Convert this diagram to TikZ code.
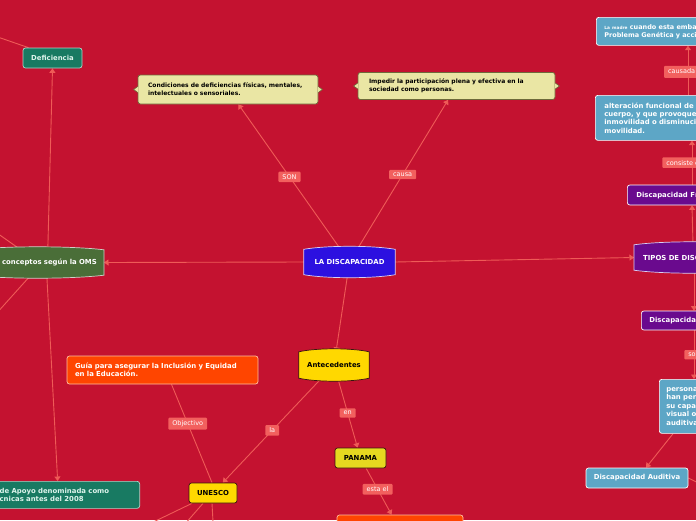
\documentclass[tikz,border=0pt]{standalone}
\usepackage{fontspec}
\setmainfont{DejaVu Sans}
\usetikzlibrary{calc,arrows.meta}
\pgfdeclarelayer{bg}
\pgfdeclarelayer{edges}
\pgfdeclarelayer{shapes}
\pgfsetlayers{bg,edges,shapes,main}
\definecolor{bgred}{HTML}{C41230}
\definecolor{linec}{HTML}{EF5B57}
\definecolor{lblc}{HTML}{F2605E}
\definecolor{disc}{HTML}{2C10E0}
\definecolor{disb}{HTML}{D8D0F4}
\definecolor{omsc}{HTML}{4A6E38}
\definecolor{omsb}{HTML}{D0D0C8}
\definecolor{defc}{HTML}{187A62}
\definecolor{defb}{HTML}{A8D8C8}
\definecolor{deft}{HTML}{DDF4EC}
\definecolor{callf}{HTML}{EAE6A4}
\definecolor{callb}{HTML}{6E6A3A}
\definecolor{purp}{HTML}{6A0A8E}
\definecolor{bluec}{HTML}{5DA6C6}
\definecolor{yel}{HTML}{FFD800}
\definecolor{yelb}{HTML}{3A1410}
\definecolor{pany}{HTML}{E6D820}
\definecolor{orng}{HTML}{FF4500}
\definecolor{orngb}{HTML}{FFC0A0}
\newcommand\bulgebg[4]{%
 \path[fill=#2,draw=#3,line width=0.7pt]
 (#1.north west) .. controls ($(#1.north west)!0.25!(#1.north east)+(0,#4)$) and ($(#1.north west)!0.75!(#1.north east)+(0,#4)$) .. (#1.north east)
 -- (#1.south east) .. controls ($(#1.south east)!0.25!(#1.south west)+(0,-#4)$) and ($(#1.south east)!0.75!(#1.south west)+(0,-#4)$) .. (#1.south west) -- cycle;}
\newcommand\notches[1]{%
 \fill[callf] ($(#1.west)+(0.6,3)$) -- ($(#1.west)+(-4,0)$) -- ($(#1.west)+(0.6,-3)$) -- cycle;
 \draw[callb,line width=0.6pt] ($(#1.west)+(0,3)$) -- ($(#1.west)+(-4,0)$) -- ($(#1.west)+(0,-3)$);
 \fill[callf] ($(#1.east)+(-0.6,3)$) -- ($(#1.east)+(4,0)$) -- ($(#1.east)+(-0.6,-3)$) -- cycle;
 \draw[callb,line width=0.6pt] ($(#1.east)+(0,3)$) -- ($(#1.east)+(4,0)$) -- ($(#1.east)+(0,-3)$);}
\tikzset{
 every node/.style={font=\fontsize{6.9}{8.3}\selectfont\bfseries, inner sep=0pt},
 core/.style={draw=none, fill=none},
 box/.style={rounded corners=2.5pt, line width=0.7pt},
 callbox/.style={box, fill=callf, draw=callb, text=black, align=left, font=\fontsize{6}{7.9}\selectfont\bfseries},
 conn/.style={draw=linec, line width=0.9pt},
 arr/.style={-{Triangle[length=4.5pt,width=6pt]}},
 lbl/.style={fill=lblc, text=white, font=\fontsize{6.5}{7.5}\selectfont, rounded corners=1pt, inner xsep=4pt, inner ysep=2.8pt}
}
\begin{document}
\begin{tikzpicture}[x=1pt,y=1pt]
\useasboundingbox (0,0) rectangle (696,-520);
\begin{pgfonlayer}{bg}
\fill[bgred] (0,0) rectangle (696,-520);
\end{pgfonlayer}

% bulge nodes
\node[core, text=white, minimum width=91pt, minimum height=25pt] (dis) at (349.5,-262) {LA DISCAPACIDAD};
\node[core, text=white, anchor=east, text width=118pt, align=right, inner xsep=7pt, minimum height=25pt] (oms) at (104,-262.5) {conceptos según la OMS};
\node[core, text=white, anchor=west, minimum height=25pt, inner xsep=9pt] (tipos) at (634,-257.5) {TIPOS DE DISCAPACIDAD};
\node[core, text=black, minimum width=70pt, minimum height=26pt] (ant) at (334,-365) {Antecedentes};

% boxes
\node[box, fill=defc, draw=defb, text=deft, minimum width=59pt, minimum height=20pt] (def) at (52.5,-58) {Deficiencia};
\node[callbox, minimum width=180pt, minimum height=29pt, text width=160pt, inner xsep=10pt] (cond) at (228,-89.5) {Condiciones de deficiencias físicas, mentales,\\intelectuales o sensoriales.};
\node[callbox, minimum width=197pt, minimum height=27pt, text width=175pt, inner xsep=11pt] (imp) at (456.5,-86) {Impedir la participación plena y efectiva en la\\sociedad como personas.};
\node[box, fill=purp, draw=white, text=white, anchor=west, minimum height=20pt, inner xsep=9pt] (fis) at (627,-195) {Discapacidad Física};
\node[box, fill=bluec, draw=white, text=white, anchor=north west, minimum height=45pt, text width=170pt, inner xsep=9pt, align=left] (alt) at (595,-95) {alteración funcional de alguna parte del\\cuerpo, y que provoque la\\inmovilidad o disminución de la\\movilidad.};
\node[box, fill=bluec, draw=white, text=white, anchor=north west, minimum height=28pt, text width=160pt, inner xsep=8pt, align=left, font=\fontsize{6.5}{8}\selectfont\bfseries] (madre) at (596,-17) {{\fontsize{4.3}{5}\selectfont La madre} cuando esta embarazada,\\Problema Genética y accidentes};
\node[box, fill=purp, draw=white, text=white, anchor=west, minimum height=19pt, inner xsep=8pt] (sens) at (641,-320.5) {Discapacidad Sensorial};
\node[box, fill=bluec, draw=white, text=white, anchor=north west, minimum height=54pt, text width=60pt, inner xsep=7pt, align=left, font=\fontsize{6.9}{8.6}\selectfont\bfseries] (pers) at (659,-379) {personas que\\han perdido\\su capacidad\\visual o\\auditiva};
\node[box, fill=bluec, draw=white, text=white, minimum width=102pt, minimum height=20pt] (aud) at (637,-478) {Discapacidad Auditiva};
\node[box, fill=pany, draw=yelb, text=black, minimum width=51pt, minimum height=20pt] (pan) at (360.5,-458) {PANAMA};
\node[box, fill=yel, draw=yelb, text=black, minimum width=48pt, minimum height=20pt] (unesco) at (213,-493) {UNESCO};
\node[box, fill=orng, draw=orngb, text=white, minimum width=191pt, minimum height=28pt, text width=175pt, inner xsep=8pt, align=left] (guia) at (162.5,-370) {Guía para asegurar la Inclusión y Equidad\\en la Educación.};
\node[box, fill=defc, draw=defb, text=deft, anchor=north east, minimum height=27pt, text width=136pt, inner xsep=4pt, align=left] (apoyo) at (140,-481) {de Apoyo denominada como\\cnicas antes del 2008};
\node[box, fill=orng, draw=orngb, minimum width=126pt, minimum height=30pt] (orange) at (400,-530) {};

\notches{cond}
\notches{imp}

% off-screen ends
\coordinate (offA) at (-40,-207);
\coordinate (offB) at (-40,-354);
\coordinate (offC) at (-40,-24);
\coordinate (offD) at (720,-494);
\coordinate (offE) at (116,-540);
\coordinate (offF) at (171,-540);
\coordinate (offG) at (214,-540);

\begin{pgfonlayer}{shapes}
\bulgebg{dis}{disc}{disb}{4}
\bulgebg{oms}{omsc}{omsb}{4}
\bulgebg{tipos}{purp}{disb}{4}
\bulgebg{ant}{yel}{yelb}{4}
\end{pgfonlayer}

\begin{pgfonlayer}{edges}
\draw[conn,arr] (dis) -- (cond) node[lbl,pos=0.5] {SON};
\draw[conn,arr] (dis) -- (imp) node[lbl,pos=0.5] {causa};
\draw[conn,arr] (dis.west) -- (oms.east);
\draw[conn,arr] (dis.east) -- (tipos.west);
\draw[conn,arr] (dis) -- (ant);
\draw[conn,arr] ([xshift=10pt]oms.north) -- (def.south);
\draw[conn,arr] ([xshift=9pt]oms.south) -- ([xshift=-10pt]apoyo.north);
\draw[conn] ([xshift=-17pt]oms.north) -- (offA);
\draw[conn] ([xshift=-7pt]oms.south) -- (offB);
\draw[conn] (offC) -- ([xshift=-24pt]def.north);
\draw[conn,arr] ([xshift=59pt]tipos.north west) -- ([xshift=65pt]fis.south west);
\draw[conn,arr] ([xshift=65pt]fis.north west) -- ([xshift=97pt]alt.south west) node[lbl,pos=0.5] {consiste en una};
\draw[conn,arr] ([xshift=93pt]alt.north west) -- ([xshift=92pt]madre.south west) node[lbl,pos=0.47] {causada por};
\draw[conn,arr] ([xshift=60pt]tipos.south west) -- ([xshift=53pt]sens.north west);
\draw[conn,arr] ([xshift=53pt]sens.south west) -- ([xshift=35pt]pers.north west) node[lbl,pos=0.5] {son};
\draw[conn,arr] ([xshift=14pt]pers.south west) -- ([xshift=9pt]aud.north);
\draw[conn] (aud.east) -- (offD);
\draw[conn,arr] (ant) -- (pan) node[lbl,pos=0.5] {en};
\draw[conn,arr] (ant) -- (unesco) node[lbl,pos=0.5] {la};
\draw[conn,arr] (pan) -- (orange) node[lbl,pos=0.45] {esta el};
\draw[conn] ([xshift=-1pt]unesco.north) -- ([xshift=9pt]guia.south) node[lbl,pos=0.6] {Objectivo};
\draw[conn] ([xshift=-21pt]unesco.south) -- (offE);
\draw[conn] ([xshift=-10pt]unesco.south) -- (offF);
\draw[conn] ([xshift=-1pt]unesco.south) -- (offG);
\end{pgfonlayer}
\end{tikzpicture}
\end{document}
